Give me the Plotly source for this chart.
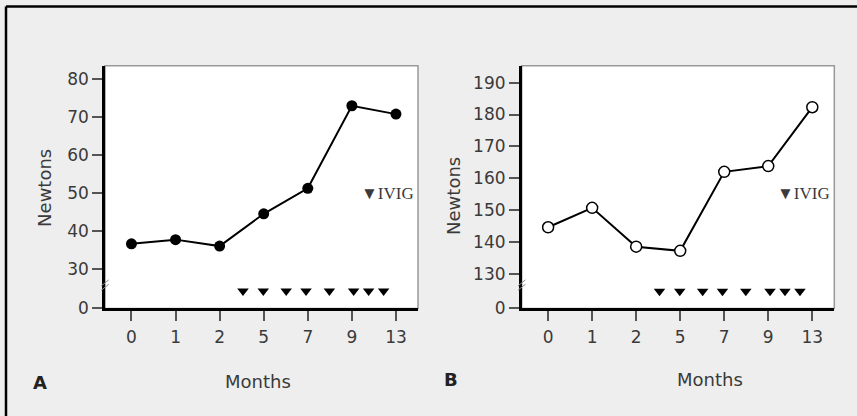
import plotly.graph_objects as go

months = ["0", "1", "2", "5", "7", "9", "13"]
strength_a = [36.7, 37.8, 36.1, 44.6, 51.3, 73.0, 70.8]
strength_b = [144.6, 150.7, 138.5, 137.2, 162.0, 163.8, 182.3]
ivig_times = [2.53, 2.99, 3.51, 3.96, 4.49, 5.04, 5.38, 5.72]
ivig_level_a = 24.3
ivig_level_b = 124.5
yticks_a = [30, 40, 50, 60, 70, 80]
yticks_b = [130, 140, 150, 160, 170, 180, 190]
ybreak_a = 19.7
ybreak_b = 119.1

W = 857
H_REF = 416      # reference picture rows used for placement fractions
H_FIG = 428      # page height so the photographed frame maps 1:1 onto the reference
TXT = "#3a3a3a"
SANS = "DejaVu Sans, Arial, sans-serif"
SERIF = "Liberation Serif, Times New Roman, serif"

xi = list(range(len(months)))


def py(px):
    """reference pixel row from top -> paper fraction"""
    return 1 - px / H_REF


fig = go.Figure()

# Panel A
fig.add_trace(go.Scatter(x=xi, y=strength_a, mode="lines+markers",
                         line=dict(color="black", width=2),
                         marker=dict(symbol="circle", size=11, color="black"),
                         xaxis="x", yaxis="y", showlegend=False))
fig.add_trace(go.Scatter(x=ivig_times, y=[ivig_level_a] * len(ivig_times), mode="markers",
                         marker=dict(symbol="triangle-down", size=10, color="black"),
                         xaxis="x", yaxis="y", showlegend=False))
# Panel B
fig.add_trace(go.Scatter(x=xi, y=strength_b, mode="lines+markers",
                         line=dict(color="black", width=2),
                         marker=dict(symbol="circle", size=11, color="white",
                                     line=dict(color="black", width=1.5)),
                         xaxis="x2", yaxis="y2", showlegend=False))
fig.add_trace(go.Scatter(x=ivig_times, y=[ivig_level_b] * len(ivig_times), mode="markers",
                         marker=dict(symbol="triangle-down", size=10, color="black"),
                         xaxis="x2", yaxis="y2", showlegend=False))

dom_a = [105 / W, 418 / W]
dom_b = [521.7 / W, 834.3 / W]
ydom = [py(307), py(65.5)]

xcommon = dict(range=[-0.6, 6.5], tickvals=xi, ticktext=months, showgrid=False, zeroline=False,
               showline=True, linecolor="black", linewidth=2.5, ticks="outside", ticklen=10,
               tickcolor="#555", tickwidth=1.5, tickfont=dict(family=SANS, size=17, color=TXT),
               ticklabelstandoff=1)
ycommon = dict(showgrid=False, zeroline=False, showline=True, linecolor="black", linewidth=2.5,
               ticks="outside", ticklen=10, tickcolor="#555", tickwidth=1.5,
               tickfont=dict(family=SANS, size=17, color=TXT))

fig.update_layout(
    width=W, height=H_FIG, autosize=False, margin=dict(l=0, r=0, t=0, b=0),
    paper_bgcolor="#eeeeee", plot_bgcolor="white",
    xaxis=dict(domain=dom_a, anchor="y", **xcommon),
    yaxis=dict(domain=ydom, anchor="x", range=[ybreak_a, 83.5],
               tickvals=[ybreak_a] + yticks_a, ticktext=["0"] + [str(v) for v in yticks_a], **ycommon),
    xaxis2=dict(domain=dom_b, anchor="y2", **xcommon),
    yaxis2=dict(domain=ydom, anchor="x2", range=[ybreak_b, 195.3],
                tickvals=[ybreak_b] + yticks_b, ticktext=["0"] + [str(v) for v in yticks_b], **ycommon),
)

shapes = []
# outer frame lines (top and left)
shapes.append(dict(type="line", xref="paper", yref="paper", x0=6 / W, x1=1, y0=py(6.5), y1=py(6.5),
                   line=dict(color="black", width=2.5)))
shapes.append(dict(type="line", xref="paper", yref="paper", x0=6 / W, x1=6 / W, y0=0, y1=py(6.5),
                   line=dict(color="black", width=2.5)))
for xr, yr in (("x domain", "y domain"), ("x2 domain", "y2 domain")):
    shapes.append(dict(type="rect", xref=xr, yref=yr, x0=0, x1=1, y0=0, y1=1,
                       line=dict(color="#999999", width=1.5), layer="below"))
    # axis break marks
    for dy in (0.0, 0.018):
        shapes.append(dict(type="line", xref=xr, yref=yr, x0=-0.012, x1=0.012, y0=0.075 + dy, y1=0.1 + dy,
                           line=dict(color="#888888", width=1)))
fig.update_layout(shapes=shapes)


def label(text, x, y, size=18, family=SANS, color=TXT, angle=0, xref="paper", yref="paper",
          xanchor="center"):
    return dict(text=text, xref=xref, yref=yref, x=x, y=y, xanchor=xanchor, yanchor="middle",
                textangle=angle, showarrow=False, font=dict(family=family, size=size, color=color))


ann = [
    label("▼IVIG", 0.81, 0.472, size=17, family=SERIF, xref="x domain", yref="y domain", xanchor="left"),
    label("▼IVIG", 0.81, 0.472, size=17, family=SERIF, xref="x2 domain", yref="y2 domain", xanchor="left"),
    label("Newtons", 45 / W, py(187), angle=-90),
    label("Newtons", 454 / W, py(195), angle=-90),
    label("Months", 258 / W, py(380)),
    label("Months", 710 / W, py(378)),
    label("<b>A</b>", 40 / W, py(381), color="#222"),
    label("<b>B</b>", 451 / W, py(378), color="#222"),
]
fig.update_layout(annotations=ann)

post = (
    "document.documentElement.style.margin='0';document.body.style.margin='0';"
    "document.documentElement.style.background='#eeeeee';document.body.style.background='#eeeeee';"
    "document.documentElement.style.overflow='hidden';document.body.style.overflow='hidden';"
)
fig.write_html("out.html", config={"responsive": False, "displayModeBar": False}, post_script=post)
